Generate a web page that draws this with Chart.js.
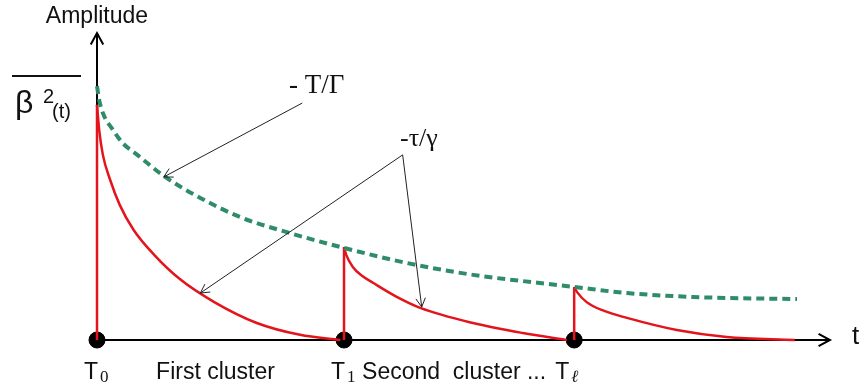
<!DOCTYPE html>
<html>
<head>
<meta charset="utf-8">
<script src="https://cdn.jsdelivr.net/npm/chart.js@4/dist/chart.umd.min.js"></script>
<style>
  html, body { margin: 0; padding: 0; background: #fff; }
  canvas { display: block; }
</style>
</head>
<body>
<canvas id="decayChart" width="867" height="386"></canvas>
<script>
// cluster start times (T0, T1, Tl) and their peak amplitudes
const clusterTimes = [0, 3.37, 6.51];
const clusterPeaks = [7.76, 3.07, 1.75];
const tickSubs = ['0', '1', '\u2113'];
const clusterNames = ['First cluster', 'Second  cluster ...'];

// slow envelope  - T/Gamma  (dashed green)
const envX = [0, 0.03, 0.08, 0.22, 0.35, 0.55, 0.93, 1.41, 1.95, 2.63, 3.37, 4.23, 5.13, 6.04, 6.51, 7.23, 8.13, 9.55];
const envY = [8.38, 7.92, 7.49, 6.93, 6.50, 6.11, 5.38, 4.69, 4.06, 3.53, 3.04, 2.54, 2.15, 1.88, 1.75, 1.55, 1.42, 1.35];

// fast decays  - tau/gamma  (red), one per cluster
const decay1X = [0, 0.03, 0.08, 0.18, 0.31, 0.50, 0.78, 1.13, 1.60, 2.18, 2.77, 3.32];
const decay1Y = [7.76, 6.93, 6.11, 5.28, 4.46, 3.63, 2.81, 2.01, 1.25, 0.56, 0.17, 0];
const decay2X = [3.37, 3.40, 3.49, 3.62, 3.77, 4.07, 4.41, 5.13, 5.81, 6.41];
const decay2Y = [3.07, 2.81, 2.41, 2.11, 1.88, 1.45, 1.06, 0.56, 0.23, 0];
const decay3X = [6.51, 6.55, 6.68, 6.92, 7.23, 7.91, 8.59, 9.52];
const decay3Y = [1.75, 1.58, 1.25, 0.96, 0.73, 0.33, 0.10, 0];

// annotation arrows: [fromX, fromY, toX, toY]
const envArrow = [2.80, 7.82, 0.91, 5.38];
const decayArrows = [[4.17, 6.11, 1.41, 1.55], [4.17, 6.11, 4.43, 1.09]];

const toPts = (xs, ys) => xs.map((x, i) => ({ x: x, y: ys[i] }));

const spikes = [];
clusterTimes.forEach((t, i) => {
  spikes.push({ x: t, y: 0 }, { x: t, y: clusterPeaks[i] }, { x: t, y: null });
});

function arrowHead(ctx, x1, y1, x2, y2, len) {
  const a = Math.atan2(y2 - y1, x2 - x1);
  ctx.beginPath();
  ctx.moveTo(x2 - len * Math.cos(a - 0.5), y2 - len * Math.sin(a - 0.5));
  ctx.lineTo(x2, y2);
  ctx.lineTo(x2 - len * Math.cos(a + 0.5), y2 - len * Math.sin(a + 0.5));
  ctx.stroke();
}

const axesPlugin = {
  id: 'axes',
  beforeDatasetsDraw(chart) {
    const ctx = chart.ctx;
    const xs = chart.scales.x, ys = chart.scales.y;
    const x0 = xs.getPixelForValue(0), y0 = ys.getPixelForValue(0);
    const top = ys.getPixelForValue(ys.max) - 4;
    const right = xs.getPixelForValue(xs.max);
    ctx.save();
    ctx.strokeStyle = '#000';
    ctx.lineWidth = 2;
    ctx.beginPath();
    ctx.moveTo(x0, y0); ctx.lineTo(x0, top);
    ctx.moveTo(x0, y0); ctx.lineTo(right, y0);
    ctx.stroke();
    arrowHead(ctx, x0, y0, x0, top, 13);
    arrowHead(ctx, x0, y0, right, y0, 13);
    ctx.restore();
  },
  afterDraw(chart) {
    const ctx = chart.ctx;
    const xs = chart.scales.x, ys = chart.scales.y;
    const px = v => xs.getPixelForValue(v), py = v => ys.getPixelForValue(v);
    ctx.save();

    // annotation arrows
    ctx.strokeStyle = '#222';
    ctx.lineWidth = 1;
    [envArrow].concat(decayArrows).forEach(a => {
      ctx.beginPath();
      ctx.moveTo(px(a[0]), py(a[1]));
      ctx.lineTo(px(a[2]), py(a[3]));
      ctx.stroke();
      arrowHead(ctx, px(a[0]), py(a[1]), px(a[2]), py(a[3]), 10);
    });

    ctx.fillStyle = '#111';
    ctx.textBaseline = 'alphabetic';

    // labels on annotations
    ctx.font = '27px "Liberation Serif"';
    ctx.textAlign = 'left';
    ctx.fillText('- T/\u0393', 289, 93);
    ctx.font = '26px "Liberation Serif"';
    ctx.fillText('-\u03c4/\u03b3', 400, 146);

    // axis titles
    ctx.font = '23px "Liberation Sans"';
    ctx.textAlign = 'center';
    ctx.fillText('Amplitude', px(0), 23);
    ctx.font = '26px "Liberation Sans"';
    ctx.textAlign = 'left';
    ctx.fillText('t', 852, 344);

    // beta^2(t) with overbar
    ctx.lineWidth = 2;
    ctx.strokeStyle = '#111';
    ctx.beginPath();
    ctx.moveTo(12, 76); ctx.lineTo(81, 76);
    ctx.stroke();
    ctx.font = '32px "Liberation Sans"';
    ctx.fillText('\u03b2', 15, 113);
    ctx.font = '20px "Liberation Sans"';
    ctx.fillText('2', 43, 103);
    ctx.fillText('(t)', 52, 118);

    // T ticks with subscripts
    const base = py(0) + 39;
    clusterTimes.forEach((t, i) => {
      ctx.font = '23px "Liberation Sans"';
      ctx.textAlign = 'right';
      ctx.fillText('T', px(t) + 1 - (i === 2 ? 6 : 0), base);
      ctx.font = (i === 2 ? 'italic ' : '') + '17px "Liberation Serif"';
      ctx.textAlign = 'left';
      ctx.fillText(tickSubs[i], px(t) + 3 - (i === 2 ? 6 : 0), base + 3);
    });
    ctx.font = '23px "Liberation Sans"';
    ctx.textAlign = 'center';
    clusterNames.forEach((name, i) => {
      ctx.fillText(name, (px(clusterTimes[i]) + px(clusterTimes[i + 1])) / 2 - 5, base);
    });
    ctx.restore();
  }
};

new Chart(document.getElementById('decayChart'), {
  type: 'scatter',
  data: {
    datasets: [
      {
        data: toPts(envX, envY),
        showLine: true,
        borderColor: '#2e8d68',
        borderWidth: 4,
        borderDash: [8, 5],
        cubicInterpolationMode: 'monotone',
        pointRadius: 0,
        clip: false
      },
      {
        data: spikes,
        showLine: true,
        spanGaps: false,
        borderColor: '#e3141b',
        borderWidth: 2.5,
        tension: 0,
        pointRadius: 0,
        clip: false
      },
      ...[[decay1X, decay1Y], [decay2X, decay2Y], [decay3X, decay3Y]].map(d => ({
        data: toPts(d[0], d[1]),
        showLine: true,
        borderColor: '#e3141b',
        borderWidth: 2.5,
        cubicInterpolationMode: 'monotone',
        pointRadius: 0,
        clip: false
      })),
      {
        data: clusterTimes.map(t => ({ x: t, y: 0 })),
        showLine: false,
        pointRadius: 8,
        pointBackgroundColor: '#000',
        pointBorderColor: '#000',
        clip: false
      }
    ]
  },
  options: {
    responsive: false,
    animation: false,
    layout: { padding: { left: 97, right: 37, top: 37, bottom: 46 } },
    plugins: { legend: { display: false }, tooltip: { enabled: false } },
    scales: {
      x: { type: 'linear', min: 0, max: 10, display: false },
      y: { type: 'linear', min: 0, max: 10, display: false }
    }
  },
  plugins: [axesPlugin]
});
</script>
</body>
</html>
